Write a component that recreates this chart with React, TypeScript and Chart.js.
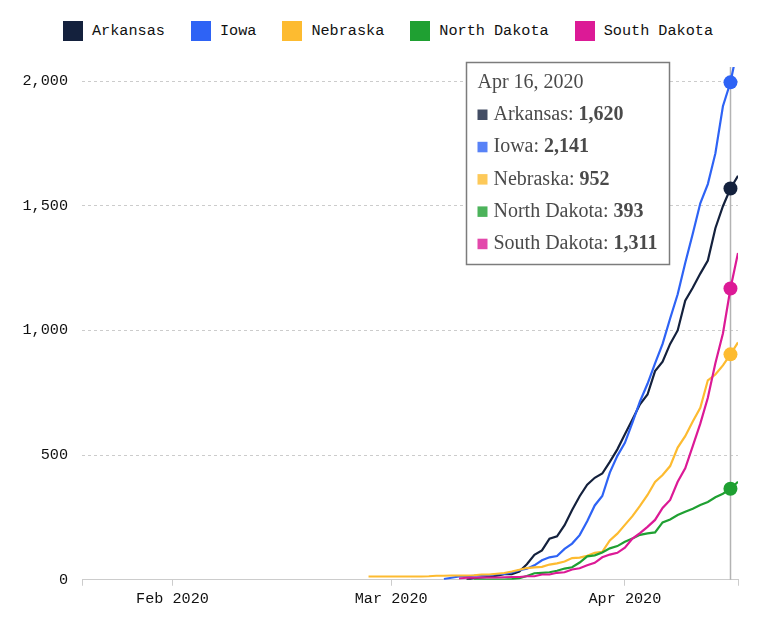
import React, { useEffect, useRef } from 'react';
import { Chart, registerables } from 'chart.js';

Chart.register(...registerables);

// Cumulative confirmed COVID-19 cases by state
const states = ['Arkansas', 'Iowa', 'Nebraska', 'North Dakota', 'South Dakota'];
const colors = ['#14213d', '#2e63f5', '#fdbb30', '#1fa032', '#dc1a96'];
const tipColors = ['rgba(20,33,61,0.8)', 'rgba(46,99,245,0.8)', 'rgba(253,187,48,0.8)', 'rgba(31,160,50,0.8)', 'rgba(220,26,150,0.8)'];

const dates = [
  '2020-02-27', '2020-02-28', '2020-02-29',
  '2020-03-01', '2020-03-02', '2020-03-03', '2020-03-04', '2020-03-05', '2020-03-06', '2020-03-07',
  '2020-03-08', '2020-03-09', '2020-03-10', '2020-03-11', '2020-03-12', '2020-03-13', '2020-03-14',
  '2020-03-15', '2020-03-16', '2020-03-17', '2020-03-18', '2020-03-19', '2020-03-20', '2020-03-21',
  '2020-03-22', '2020-03-23', '2020-03-24', '2020-03-25', '2020-03-26', '2020-03-27', '2020-03-28',
  '2020-03-29', '2020-03-30', '2020-03-31',
  '2020-04-01', '2020-04-02', '2020-04-03', '2020-04-04', '2020-04-05', '2020-04-06', '2020-04-07',
  '2020-04-08', '2020-04-09', '2020-04-10', '2020-04-11', '2020-04-12', '2020-04-13', '2020-04-14',
  '2020-04-15', '2020-04-16',
];

const _ = null;

const arkansas = [
  _, _, _, _, _, _, _, _, _, _, _, _, _,
  1, 6, 9, 12, 16, 22, 22, 33, 62, 100, 118, 165, 174, 219, 280, 335, 381, 409, 426,
  473, 523, 584, 643, 704, 743, 837, 875, 946, 1000, 1119, 1171, 1228, 1280, 1410, 1498, 1569, 1620,
];

const iowa = [
  _, _, _, _, _, _, _, _, _, _,
  3, 8, 13, 14, 16, 17, 18, 22, 23, 29, 38, 44, 58, 78, 90, 95, 124, 145, 179, 235,
  298, 336, 430, 497, 549, 630, 715, 786, 868, 946, 1048, 1145, 1270, 1388, 1510, 1587, 1710, 1899, 1995, 2141,
];

const nebraska = [
  13, 13, 13, 13, 13, 13, 13, 13, 14, 16, 16, 17, 17, 17, 18, 21, 21, 24, 27, 33,
  40, 47, 50, 52, 61, 66, 73, 87, 89, 96, 108, 112, 158, 185, 220, 255, 296, 340, 392, 420,
  456, 530, 576, 635, 690, 800, 823, 860, 904, 952,
];

const northDakota = [
  _, _, _, _, _, _, _, _, _, _, _, _, _, _,
  1, 1, 1, 1, 1, 3, 6, 15, 26, 28, 30, 36, 45, 50, 69, 94, 98, 109, 126, 135, 152, 165,
  180, 186, 190, 230, 242, 260, 273, 285, 300, 312, 331, 345, 365, 393,
];

const southDakota = [
  _, _, _, _, _, _, _, _, _, _, _, _,
  5, 8, 8, 9, 9, 9, 10, 11, 11, 14, 14, 21, 21, 28, 30, 41, 46, 58, 68, 90, 101, 108,
  129, 165, 187, 212, 240, 288, 320, 393, 447, 536, 626, 730, 868, 988, 1168, 1311,
];

const series = [arkansas, iowa, nebraska, northDakota, southDakota];

const axisStart = '2020-01-20';
const axisEnd = '2020-04-16';
const monthTicks = ['2020-02-01', '2020-03-01', '2020-04-01'];
const yTicks = [0, 500, 1000, 1500, 2000];
const yMax = 2056;

const highlightDate = '2020-04-15';
const tooltipDate = '2020-04-16';

const monthNames = ['Jan', 'Feb', 'Mar', 'Apr', 'May', 'Jun', 'Jul', 'Aug', 'Sep', 'Oct', 'Nov', 'Dec'];

const MONO = '"Liberation Mono", "DejaVu Sans Mono", monospace';
const SERIF = '"Liberation Serif", "DejaVu Serif", serif';

const dayNum = (s: string) =>
  Date.UTC(+s.slice(0, 4), +s.slice(5, 7) - 1, +s.slice(8, 10)) / 86400000;

const monthLabel = (s: string) => `${monthNames[+s.slice(5, 7) - 1]} ${s.slice(0, 4)}`;
const dayLabel = (s: string) => `${monthNames[+s.slice(5, 7) - 1]} ${+s.slice(8, 10)}, ${s.slice(0, 4)}`;
const fmt = (v: number) => v.toLocaleString('en-US');

const highlightIndex = dates.indexOf(highlightDate);
const tooltipIndex = dates.indexOf(tooltipDate);

// Vertical hover rule behind the lines
const hoverRule = {
  id: 'hoverRule',
  beforeDatasetsDraw(chart: any) {
    const { ctx, chartArea, scales } = chart;
    const hx = Math.round(scales.x.getPixelForValue(dayNum(highlightDate))) + 0.5;
    ctx.save();
    ctx.strokeStyle = '#b3b3b3';
    ctx.lineWidth = 1.5;
    ctx.beginPath();
    ctx.moveTo(hx, chartArea.top);
    ctx.lineTo(hx, chartArea.bottom);
    ctx.stroke();
    ctx.restore();
  },
};

// Tooltip panel with the values of the latest day
const tooltipPanel = {
  id: 'tooltipPanel',
  afterDraw(chart: any) {
    const { ctx, chartArea, scales } = chart;
    const hx = scales.x.getPixelForValue(dayNum(highlightDate));
    const left = Math.round(hx - 264) + 0.5;
    const top = Math.round(chartArea.top - 5) + 0.5;
    const regular = `20px ${SERIF}`;
    const bold = `bold 20px ${SERIF}`;

    ctx.save();
    ctx.font = regular;
    const title = dayLabel(dates[tooltipIndex]);
    let contentW = ctx.measureText(title).width;
    const rows = states.map((name, i) => {
      const label = `${name}: `;
      const value = fmt(series[i][tooltipIndex] as number);
      ctx.font = regular;
      const lw = ctx.measureText(label).width;
      ctx.font = bold;
      const vw = ctx.measureText(value).width;
      contentW = Math.max(contentW, 16 + lw + vw);
      return { label, value, lw };
    });
    const width = Math.round(11 + contentW + 12);
    const height = 202;

    ctx.fillStyle = '#ffffff';
    ctx.fillRect(left, top, width, height);
    ctx.strokeStyle = '#7c7c7c';
    ctx.lineWidth = 1.5;
    ctx.strokeRect(left, top, width, height);

    ctx.textBaseline = 'alphabetic';
    ctx.textAlign = 'left';
    ctx.fillStyle = '#4a4a4a';
    ctx.font = regular;
    ctx.fillText(title, left + 11, top + 25.5);

    rows.forEach((r, i) => {
      const base = top + 57.5 + i * 32.3;
      ctx.fillStyle = tipColors[i];
      ctx.fillRect(left + 11, base - 10.5, 10, 10.5);
      ctx.fillStyle = '#4a4a4a';
      ctx.font = regular;
      ctx.fillText(r.label, left + 27, base);
      ctx.font = bold;
      ctx.fillText(r.value, left + 27 + r.lw, base);
    });
    ctx.restore();
  },
};

export default function App() {
  const canvasRef = useRef<HTMLCanvasElement>(null);

  useEffect(() => {
    if (!canvasRef.current) return;
    const monthValues = monthTicks.map(dayNum);
    const chart = new Chart(canvasRef.current, {
      type: 'line',
      data: {
        datasets: states.map((name, i) => ({
          label: name,
          data: series[i].map((v, j) => ({ x: dayNum(dates[j]), y: v })) as any,
          borderColor: colors[i],
          backgroundColor: colors[i],
          borderWidth: 2.2,
          tension: 0,
          fill: false,
          order: states.length - i,
          pointRadius: (c: any) => (c.dataIndex === highlightIndex ? 7 : 0),
          pointHoverRadius: (c: any) => (c.dataIndex === highlightIndex ? 7 : 0),
          pointBorderWidth: 0,
          pointBackgroundColor: colors[i],
        })),
      },
      options: {
        animation: false,
        responsive: true,
        maintainAspectRatio: false,
        events: [],
        layout: { padding: { left: 0, right: 14, top: 0, bottom: 7 } },
        plugins: {
          legend: { display: false },
          tooltip: { enabled: false },
        },
        scales: {
          x: {
            type: 'linear',
            min: dayNum(axisStart),
            max: dayNum(axisEnd),
            afterBuildTicks: (s: any) => {
              s.ticks = [axisStart, ...monthTicks, axisEnd].map((d) => ({ value: dayNum(d) }));
            },
            ticks: {
              autoSkip: false,
              maxRotation: 0,
              padding: 4,
              color: '#111111',
              font: { family: MONO, size: 15.2 },
              callback: (v: any) => {
                const k = monthValues.indexOf(v);
                return k >= 0 ? monthLabel(monthTicks[k]) : '';
              },
            },
            grid: { drawOnChartArea: false, drawTicks: true, tickLength: 6, color: '#cccccc' },
            border: { display: true, color: '#cccccc' },
          },
          y: {
            min: 0,
            max: yMax,
            afterBuildTicks: (s: any) => {
              s.ticks = yTicks.map((v) => ({ value: v }));
            },
            afterFit: (s: any) => {
              s.width = 74;
            },
            ticks: {
              padding: 14,
              color: '#111111',
              font: { family: MONO, size: 15.2 },
              callback: (v: any) => fmt(v),
            },
            grid: { drawTicks: false, color: '#cccccc', lineWidth: 1 },
            border: { display: false, dash: [3, 3] },
          },
        },
      },
      plugins: [hoverRule, tooltipPanel],
    });
    return () => chart.destroy();
  }, []);

  return (
    <div style={{ width: 744 }}>
      <div
        style={{
          boxSizing: 'border-box',
          height: 36,
          paddingTop: 13,
          paddingLeft: 55,
          display: 'flex',
          alignItems: 'flex-start',
          fontFamily: MONO,
          fontSize: 15.2,
          color: '#111111',
        }}
      >
        {states.map((name, i) => (
          <div key={name} style={{ display: 'flex', alignItems: 'center', height: 20, marginRight: 26 }}>
            <span style={{ display: 'inline-block', width: 20, height: 20, background: colors[i], marginRight: 9 }} />
            <span style={{ lineHeight: '20px', whiteSpace: 'nowrap' }}>{name}</span>
          </div>
        ))}
      </div>
      <div style={{ position: 'relative', width: 744, height: 575 }}>
        <canvas ref={canvasRef} />
      </div>
    </div>
  );
}
